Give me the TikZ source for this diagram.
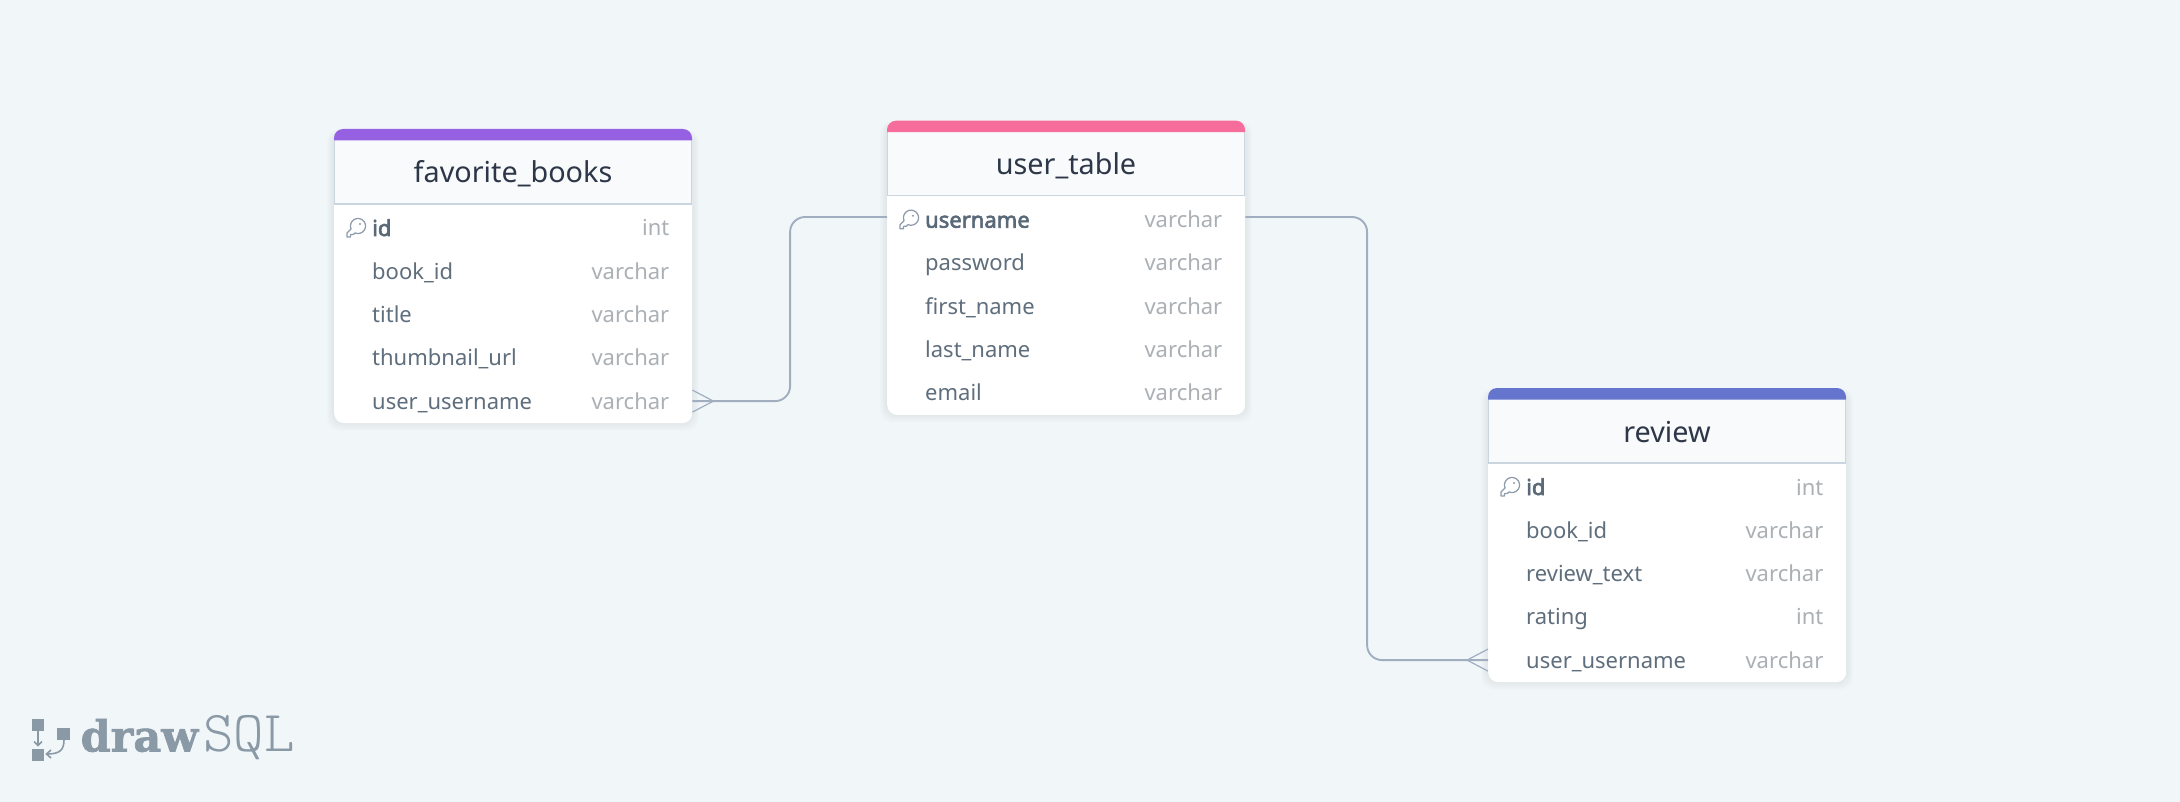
\documentclass[tikz,border=0pt]{standalone}
\usepackage{fontspec}
\setmainfont{Noto Sans}
\newfontfamily\fieldboldfont{Noto Sans}[FakeBold=2.8]
\newfontfamily\logobold{DejaVu Serif Bold}[FakeBold=1.5]
\newfontfamily\logolight{Latin Modern Mono Light}
\usetikzlibrary{calc}
\definecolor{bgc}{HTML}{F1F6F9}
\definecolor{headc}{HTML}{F8FAFC}
\definecolor{edgec}{HTML}{CBD5E0}
\definecolor{linec}{HTML}{A0AEC0}
\definecolor{titlec}{HTML}{2D3748}
\definecolor{fieldc}{HTML}{5F6E7C}
\definecolor{boldc}{HTML}{5A6978}
\definecolor{typec}{HTML}{ABB0B5}
\definecolor{keyc}{HTML}{8E9BAB}
\definecolor{logoc}{HTML}{8A99A6}
\definecolor{purplec}{HTML}{9561E2}
\definecolor{pinkc}{HTML}{F66D9B}
\definecolor{indigoc}{HTML}{6574CD}
\definecolor{shadowc}{HTML}{4A5568}
\tikzset{
  x=1pt,y=-1pt,
  cardbox/.style={draw=none,fill=white,rounded corners=10pt,minimum width=358pt,minimum height=294pt,anchor=north west,inner sep=0pt},
  rowbox/.style={draw=none,minimum width=358pt,minimum height=43pt,inner sep=0pt,anchor=west},
  fieldtxt/.style={anchor=base west,inner sep=0pt,text=fieldc,font=\fontsize{22}{26}\selectfont},
  keytxt/.style={anchor=base west,inner sep=0pt,text=boldc,font=\fieldboldfont\fontsize{22}{26}\selectfont},
  typetxt/.style={anchor=base east,inner sep=0pt,text=typec,font=\fontsize{22}{26}\selectfont},
  titletxt/.style={anchor=base,inner sep=0pt,text=titlec,font=\fontsize{28.8}{32}\selectfont},
  relline/.style={draw=linec,line width=1.9pt,rounded corners=15pt},
  forkline/.style={draw=linec,line width=1.2pt},
  keyicon/.style={draw=keyc,line width=1.25pt,fill=none,line join=round,line cap=round},
  logotxt/.style={inner sep=0pt,anchor=base west,text=logoc}
}
% #1 node prefix, #2 x, #3 y, #4 colour, #5 title
\newcommand{\erdcard}[5]{%
  \begin{scope}[shift={(#2,#3)}]
    \foreach \g in {1,2,...,8}{
      \fill[shadowc,opacity=0.012,rounded corners=12pt]
        (-\g*0.9,4-\g*0.4) rectangle (358+\g*0.9,293+\g*1.1);
    }
    \node[cardbox] (#1) at (0,0) {};
    \fill[headc] (0,11) rectangle (358,75);
    \draw[edgec,line width=1.2pt] (0.6,11) -- (0.6,75) -- (357.4,75) -- (357.4,11);
    \fill[#4] (0,11.5) [rounded corners=9pt] -- (0,0) -- (358,0) [sharp corners] -- (358,11.5) -- cycle;
    \node[titletxt] (#1title) at (179,54) {#5};
  \end{scope}}
% #1 node name, #2 card, #3 row number, #4 field, #5 type, #6 style
\newcommand{\erdrow}[6]{%
  \node[rowbox] (#1) at ($(#2.north west)+(0,{96.3+(#3-1)*43.95})$) {};
  \node[#6] (#1n) at ($(#2.north west)+(38,{107+(#3-1)*43.3})$) {#4};
  \node[typetxt] (#1t) at ($(#2.north west)+(335.5,{107+(#3-1)*43.3})$) {#5};}
\newcommand{\erdkey}[1]{%
  \begin{scope}[shift={(#1)}]
    \draw[keyicon] (17.07,99.97) -- (12.9,104.2) -- (12.9,108) -- (16.6,108) -- (16.6,105.6) -- (19.2,105.6)
      -- (21.03,103.93) -- plot[domain=113:-203.2,samples=40,smooth] ({24+7.5*cos(\x)},{97+7.5*sin(\x)}) -- cycle;
    \fill[keyc] (26,95) circle[radius=1.1pt];
  \end{scope}}
\begin{document}
\begin{tikzpicture}
\useasboundingbox (0,0) rectangle (2180,802);
\fill[bgc] (0,0) rectangle (2180,802);

\erdcard{fb}{334}{129}{purplec}{favorite\_books}
\erdcard{ut}{887}{120.7}{pinkc}{user\_table}
\erdcard{rv}{1488}{388}{indigoc}{review}

\erdrow{fba}{fb}{1}{id}{int}{keytxt}
\erdrow{fbb}{fb}{2}{book\_id}{varchar}{fieldtxt}
\erdrow{fbc}{fb}{3}{title}{varchar}{fieldtxt}
\erdrow{fbd}{fb}{4}{thumbnail\_url}{varchar}{fieldtxt}
\erdrow{fbe}{fb}{5}{user\_username}{varchar}{fieldtxt}

\erdrow{uta}{ut}{1}{username}{varchar}{keytxt}
\erdrow{utb}{ut}{2}{password}{varchar}{fieldtxt}
\erdrow{utc}{ut}{3}{first\_name}{varchar}{fieldtxt}
\erdrow{utd}{ut}{4}{last\_name}{varchar}{fieldtxt}
\erdrow{ute}{ut}{5}{email}{varchar}{fieldtxt}

\erdrow{rva}{rv}{1}{id}{int}{keytxt}
\erdrow{rvb}{rv}{2}{book\_id}{varchar}{fieldtxt}
\erdrow{rvc}{rv}{3}{review\_text}{varchar}{fieldtxt}
\erdrow{rvd}{rv}{4}{rating}{int}{fieldtxt}
\erdrow{rve}{rv}{5}{user\_username}{varchar}{fieldtxt}

\erdkey{fb.north west}
\erdkey{ut.north west}
\erdkey{rv.north west}

% connectors
\draw[relline] (fbe.east) -- ++(97.7,0) |- (uta.west);
\draw[relline] (uta.east) -- ++(121.7,0) |- (rve.west);
% crow's feet
\draw[forkline] ($(fbe.east)+(0,-11)$) -- ($(fbe.east)+(21,0)$) -- ($(fbe.east)+(0,11)$);
\draw[forkline] ($(rve.west)+(0,-11)$) -- ($(rve.west)+(-21,0)$) -- ($(rve.west)+(0,11)$);

% logo
\fill[logoc] (32,719) rectangle (44.3,731);
\fill[logoc] (32,748.7) rectangle (44.3,760.7);
\fill[logoc] (57.3,727.7) rectangle (70,739.7);
\draw[logoc,line width=1.6pt] (38,731) -- (38,745);
\draw[logoc,line width=1.6pt] (34,741.5) -- (38,745.5) -- (42,741.5);
\draw[logoc,line width=1.6pt] (64,739.7) .. controls (64,750) and (60,754) .. (47,754);
\draw[logoc,line width=1.6pt] (51,750) -- (46.5,754) -- (51,758);
\node[logotxt,font={\logobold\fontsize{43}{45}\selectfont}] (logodraw) at (80.5,751.5) {draw};
\node[logotxt,font={\logolight\fontsize{58}{60}\selectfont}] (logosql) at (203,751.5) {SQL};
\end{tikzpicture}
\end{document}
